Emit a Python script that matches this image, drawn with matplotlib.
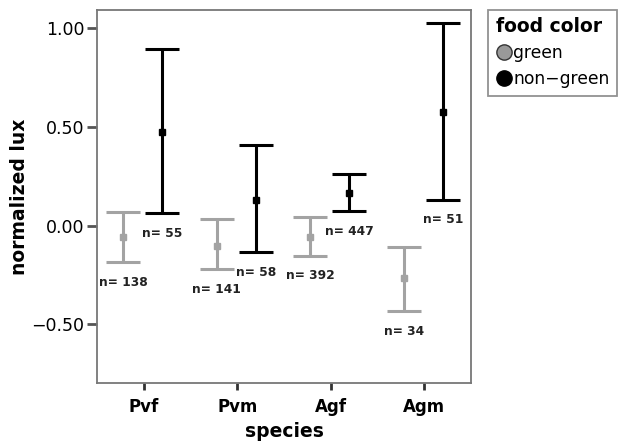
import matplotlib
matplotlib.use("Agg")
import matplotlib.pyplot as plt
from matplotlib.lines import Line2D
import numpy as np

species = ["Pvf", "Pvm", "Agf", "Agm"]

green_mean = [-0.056, -0.103, -0.056, -0.264]
green_low = [-0.186, -0.221, -0.152, -0.434]
green_high = [0.071, 0.034, 0.043, -0.108]
green_n = [138, 141, 392, 34]

nongreen_mean = [0.473, 0.129, 0.167, 0.578]
nongreen_low = [0.063, -0.133, 0.073, 0.132]
nongreen_high = [0.896, 0.410, 0.264, 1.026]
nongreen_n = [55, 58, 447, 51]

fig = plt.figure(figsize=(6.22, 4.45), dpi=100)
ax = fig.add_axes([0.156, 0.139, 0.601, 0.839])

x = np.arange(len(species))
groups = [
    (x - 0.22, green_mean, green_low, green_high, green_n, "#a3a3a3"),
    (x + 0.20, nongreen_mean, nongreen_low, nongreen_high, nongreen_n, "black"),
]
for xs, mean, low, high, ns, col in groups:
    mean = np.array(mean)
    err = [mean - np.array(low), np.array(high) - mean]
    ax.errorbar(xs, mean, yerr=err, fmt="s", color=col, ecolor=col,
                markersize=4.5, elinewidth=2.2, capsize=12, capthick=2.2)
    for xi, lo, n in zip(xs, low, ns):
        ax.annotate(f"n= {n}", (xi, lo), xytext=(0, -14.5), textcoords="offset points",
                    ha="center", va="center", fontsize=8.8, fontweight="bold",
                    color="#222222")

ax.set_xlim(-0.5, 3.5)
ax.set_ylim(-0.797, 1.093)
ax.set_xticks(x)
ax.set_xticklabels(species, fontweight="bold", fontsize=12)
ax.set_yticks([-0.5, 0.0, 0.5, 1.0])
ax.set_yticklabels(["\u22120.50", "0.00", "0.50", "1.00"], fontsize=12.5)
ax.tick_params(axis="y", length=7, width=2, color="#555555", pad=2)
ax.tick_params(axis="x", length=5, width=2, color="#333333", pad=6)
for s in ax.spines.values():
    s.set_color("#777777")
    s.set_linewidth(1.3)
ax.set_xlabel("species", fontweight="bold", fontsize=13.5, labelpad=4)
ax.set_ylabel("normalized lux", fontweight="bold", fontsize=13.5, labelpad=2)

handles = [
    Line2D([], [], marker="o", linestyle="", markersize=11, markerfacecolor="#999999",
           markeredgecolor="#333333"),
    Line2D([], [], marker="o", linestyle="", markersize=11, markerfacecolor="black",
           markeredgecolor="black"),
]
leg = fig.legend(handles, ["green", "non\u2212green"], title="food color",
                 loc="upper left", bbox_to_anchor=(0.785, 0.978), fontsize=12.3,
                 title_fontproperties={"weight": "bold", "size": 13.5},
                 frameon=True, fancybox=False, handletextpad=0.1,
                 handlelength=0.9, borderpad=0.45, labelspacing=0.45,
                 alignment="left", borderaxespad=0)
leg.get_frame().set_edgecolor("#777777")
leg.get_frame().set_linewidth(1.3)

fig.savefig("out.png", dpi=100)
